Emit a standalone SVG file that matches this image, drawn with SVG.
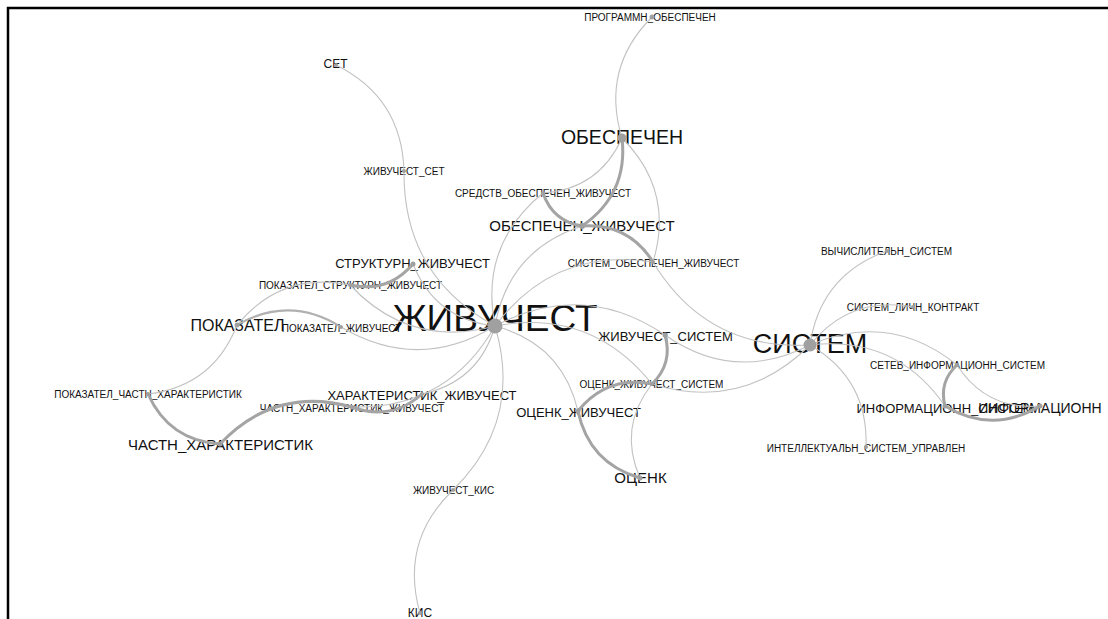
<svg xmlns="http://www.w3.org/2000/svg" width="1108" height="619" viewBox="0 0 1108 619">
<style>
.lb text{font-family:"Liberation Sans",Arial,sans-serif;fill:#111;text-anchor:middle}
.e{fill:none;stroke:#c2c2c2;stroke-width:1.1}
.t{fill:none;stroke:#a4a4a4;stroke-width:3;stroke-linecap:round}
.m{fill:none;stroke:#b0b0b0;stroke-width:2}
.n{fill:#a0a0a0}
</style>
<rect x="0" y="0" width="1108" height="619" fill="#fff"/>
<path d="M8,619 V8 H1108" fill="none" stroke="#000" stroke-width="2.5"/>
<g class="lb" id="labels">
<g id="n-zhivuchest"><text x="495" y="331" font-size="37">ЖИВУЧЕСТ</text></g>
<g id="n-sistem"><text x="810" y="353" font-size="27">СИСТЕМ</text></g>
<g id="n-obespechen"><text x="622" y="144" font-size="19.5">ОБЕСПЕЧЕН</text></g>
<g id="n-programmn"><text x="650" y="21" font-size="10">ПРОГРАММН_ОБЕСПЕЧЕН</text></g>
<g id="n-set"><text x="335.5" y="68" font-size="12">СЕТ</text></g>
<g id="n-zh-set"><text x="404" y="175" font-size="10">ЖИВУЧЕСТ_СЕТ</text></g>
<g id="n-sredstv"><text x="543" y="197" font-size="10">СРЕДСТВ_ОБЕСПЕЧЕН_ЖИВУЧЕСТ</text></g>
<g id="n-ob-zh"><text x="582" y="231" font-size="15">ОБЕСПЕЧЕН_ЖИВУЧЕСТ</text></g>
<g id="n-s-ob-zh"><text x="653.5" y="267" font-size="10">СИСТЕМ_ОБЕСПЕЧЕН_ЖИВУЧЕСТ</text></g>
<g id="n-strukt"><text x="412.5" y="268" font-size="13">СТРУКТУРН_ЖИВУЧЕСТ</text></g>
<g id="n-pok-strukt"><text x="350.5" y="289" font-size="10">ПОКАЗАТЕЛ_СТРУКТУРН_ЖИВУЧЕСТ</text></g>
<g id="n-pokazatel"><text x="237.5" y="331" font-size="16">ПОКАЗАТЕЛ</text></g>
<g id="n-pok-zh"><text x="341.5" y="331.5" font-size="10">ПОКАЗАТЕЛ_ЖИВУЧЕСТ</text></g>
<g id="n-pok-ch-h"><text x="148" y="398" font-size="10">ПОКАЗАТЕЛ_ЧАСТН_ХАРАКТЕРИСТИК</text></g>
<g id="n-har-zh"><text x="422" y="399.5" font-size="13">ХАРАКТЕРИСТИК_ЖИВУЧЕСТ</text></g>
<g id="n-ch-h-zh"><text x="352" y="411.5" font-size="10">ЧАСТН_ХАРАКТЕРИСТИК_ЖИВУЧЕСТ</text></g>
<g id="n-ch-h"><text x="220.5" y="450" font-size="15">ЧАСТН_ХАРАКТЕРИСТИК</text></g>
<g id="n-zh-kis"><text x="453.5" y="494" font-size="10">ЖИВУЧЕСТ_КИС</text></g>
<g id="n-kis"><text x="420" y="617" font-size="12">КИС</text></g>
<g id="n-oc-zh"><text x="578.5" y="416.5" font-size="13">ОЦЕНК_ЖИВУЧЕСТ</text></g>
<g id="n-ocenk"><text x="640.5" y="483" font-size="15">ОЦЕНК</text></g>
<g id="n-oc-zh-s"><text x="651.5" y="388" font-size="10">ОЦЕНК_ЖИВУЧЕСТ_СИСТЕМ</text></g>
<g id="n-zh-s"><text x="665.5" y="340.5" font-size="13">ЖИВУЧЕСТ_СИСТЕМ</text></g>
<g id="n-vych"><text x="886.5" y="255" font-size="10">ВЫЧИСЛИТЕЛЬН_СИСТЕМ</text></g>
<g id="n-lichn"><text x="913" y="311" font-size="10">СИСТЕМ_ЛИЧН_КОНТРАКТ</text></g>
<g id="n-setev"><text x="957.5" y="369" font-size="10">СЕТЕВ_ИНФОРМАЦИОНН_СИСТЕМ</text></g>
<g id="n-inf-s"><text x="945" y="413" font-size="13">ИНФОРМАЦИОНН_СИСТЕМ</text></g>
<g id="n-inf"><text x="1040" y="413" font-size="14">ИНФОРМАЦИОНН</text></g>
<g id="n-intel"><text x="866" y="451.5" font-size="10">ИНТЕЛЛЕКТУАЛЬН_СИСТЕМ_УПРАВЛЕН</text></g>
</g>
<g id="edges">
<path class="e" d="M495,326 Q403,275.8 404,171"/>
<path class="e" d="M336,65 Q401.8,97.6 404,171"/>
<path class="e" d="M495,326 Q479.1,245.1 543,193"/>
<path class="e" d="M622,138 Q599,189.2 543,193"/>
<path class="e" d="M495,326 Q508.5,249.9 582,226"/>
<path class="e" d="M495,326 Q554.8,246.6 653,262"/>
<path class="e" d="M622,138 Q674.7,190.7 653,262"/>
<path class="e" d="M810,345 Q706.6,350.6 653,262"/>
<path class="e" d="M622,138 Q600.7,68.5 652,17"/>
<path class="e" d="M495,326 Q435.4,319.6 413,264"/>
<path class="e" d="M495,326 Q410.2,349 350,285"/>
<path class="e" d="M237,325 Q281.5,271.1 350,285"/>
<path class="e" d="M495,326 Q418.3,372.7 341,327"/>
<path class="e" d="M237,325 Q213.2,386.2 148,394"/>
<path class="e" d="M495,326 Q478.9,381.9 422,394"/>
<path class="e" d="M495,326 Q447.8,409.4 352,407"/>
<path class="e" d="M495,326 Q523.2,420.6 453,490"/>
<path class="e" d="M420,613 Q399.6,541.6 453,490"/>
<path class="e" d="M495,326 Q562,343.6 578,411"/>
<path class="e" d="M495,326 Q590.9,307.9 652,384"/>
<path class="e" d="M495,326 Q582.7,279.5 665,335"/>
<path class="e" d="M810,345 Q734.5,383.5 665,335"/>
<path class="e" d="M810,345 Q742.7,411.9 652,384"/>
<path class="e" d="M640,478 Q617.8,427.4 652,384"/>
<path class="e" d="M810,345 Q820.3,274.9 887,251"/>
<path class="e" d="M810,345 Q850.1,295.1 913,307"/>
<path class="e" d="M810,345 Q889.5,310.9 957,365"/>
<path class="e" d="M810,345 Q895.8,335 945,406"/>
<path class="e" d="M810,345 Q868.6,379.2 866,447"/>
<path class="e" d="M1040,406 Q986.2,410.4 957,365"/>
<path class="t" d="M622,138 Q628.4,194 582,226"/>
<path class="t" d="M582,226 Q552.6,221.2 543,193"/>
<path class="t" d="M582,226 Q628.3,222.7 653,262"/>
<path class="t" d="M413,264 Q387.8,293.4 350,285"/>
<path class="m" d="M237,325 Q289.6,294.8 341,327"/>
<path class="t" d="M220,444 Q169,440.6 148,394"/>
<path class="t" d="M220,444 Q274.9,385.9 352,407"/>
<path class="t" d="M422,394 Q390.9,421.5 352,407"/>
<path class="t" d="M665,335 Q673.2,363.4 652,384"/>
<path class="t" d="M578,411 Q606.9,375.3 652,384"/>
<path class="t" d="M640,478 Q588.9,463.1 578,411"/>
<path class="t" d="M1040,406 Q992.5,434.5 945,406"/>
<path class="t" d="M945,406 Q938.7,381.9 957,365"/>
</g>
<g id="nodes">
<circle class="n" cx="495" cy="326" r="7.5"/>
<circle class="n" cx="810" cy="345" r="6.5"/>
<circle class="n" cx="622" cy="138" r="4.5"/>
<circle class="n" cx="652" cy="17" r="2.5"/>
<circle class="n" cx="336" cy="65" r="2"/>
<circle class="n" cx="404" cy="171" r="2"/>
<circle class="n" cx="543" cy="193" r="2"/>
<circle class="n" cx="582" cy="226" r="3"/>
<circle class="n" cx="653" cy="262" r="2"/>
<circle class="n" cx="413" cy="264" r="2.5"/>
<circle class="n" cx="350" cy="285" r="2"/>
<circle class="n" cx="237" cy="325" r="2.5"/>
<circle class="n" cx="341" cy="327" r="2"/>
<circle class="n" cx="148" cy="394" r="2"/>
<circle class="n" cx="422" cy="394" r="2"/>
<circle class="n" cx="352" cy="407" r="2"/>
<circle class="n" cx="220" cy="444" r="2.5"/>
<circle class="n" cx="453" cy="490" r="2"/>
<circle class="n" cx="420" cy="613" r="2"/>
<circle class="n" cx="578" cy="411" r="2.5"/>
<circle class="n" cx="640" cy="478" r="2.5"/>
<circle class="n" cx="652" cy="384" r="2"/>
<circle class="n" cx="665" cy="335" r="2.5"/>
<circle class="n" cx="887" cy="251" r="2"/>
<circle class="n" cx="913" cy="307" r="2"/>
<circle class="n" cx="957" cy="365" r="2"/>
<circle class="n" cx="945" cy="406" r="2.5"/>
<circle class="n" cx="1040" cy="406" r="2.5"/>
<circle class="n" cx="866" cy="447" r="2"/>
</g>
</svg>
